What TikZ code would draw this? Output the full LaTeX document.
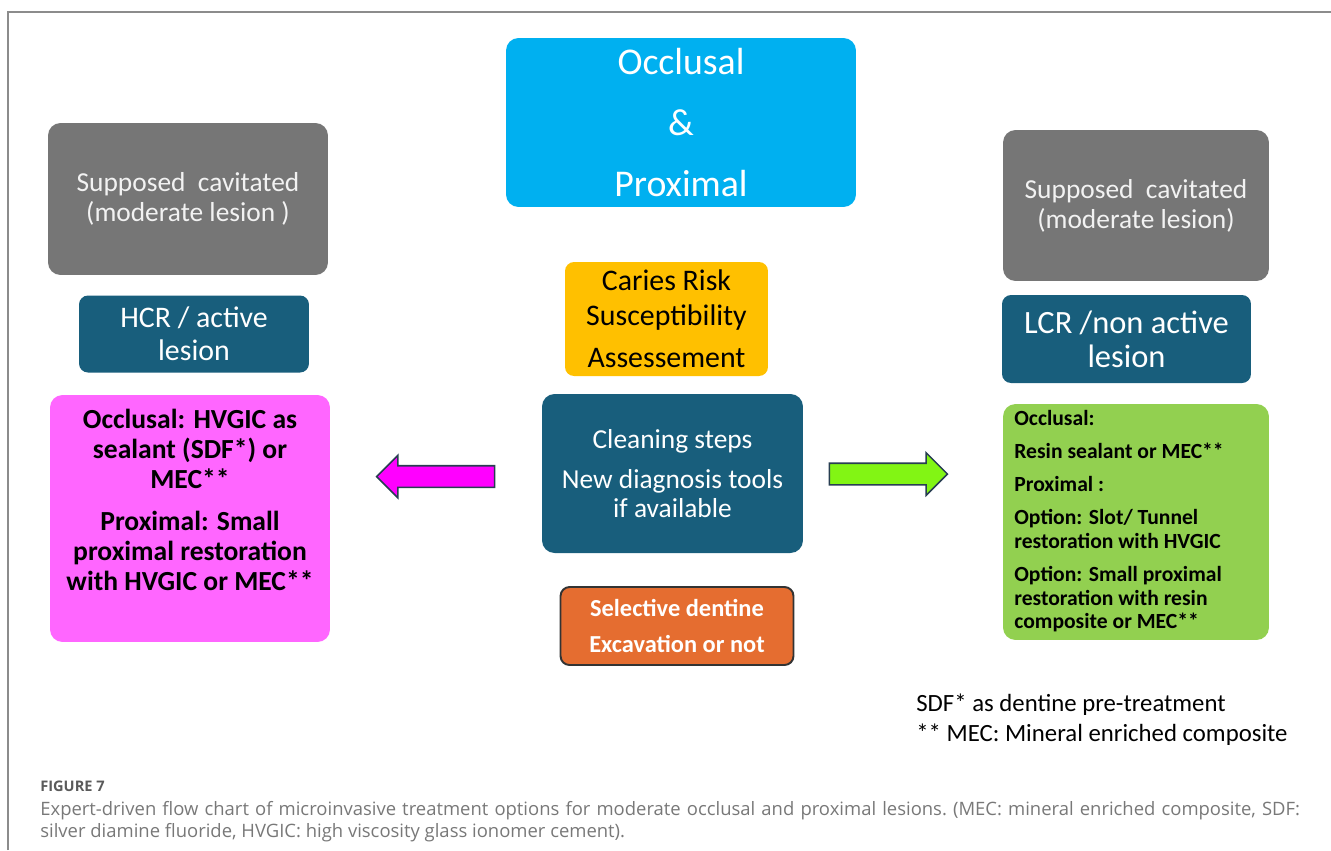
\documentclass[tikz,border=0pt]{standalone}
\usepackage{fontspec}
\setmainfont{Carlito}
\newfontfamily\figcapfont{Open Sans}
\usepackage{tikz}
\usetikzlibrary{shapes.arrows}

\definecolor{occlblue}{RGB}{0,176,240}
\definecolor{boxgray}{RGB}{118,118,118}
\definecolor{lesionblue}{RGB}{24,94,124}
\definecolor{riskgold}{RGB}{255,192,0}
\definecolor{excorange}{RGB}{229,109,48}
\definecolor{hcrpink}{RGB}{255,102,255}
\definecolor{lcrgreen}{RGB}{146,208,80}
\definecolor{arrowpink}{RGB}{255,0,255}
\definecolor{arrowgreen}{RGB}{130,245,20}
\definecolor{outline}{RGB}{40,62,82}
\definecolor{framegray}{RGB}{140,140,140}
\definecolor{capgray}{RGB}{120,120,120}
\definecolor{figgray}{RGB}{90,90,90}

\begin{document}
\begin{tikzpicture}[
    x=0.02cm, y=-0.02cm,
    box/.style={rounded corners=0.25cm, inner sep=0pt, align=center},
    smallbox/.style={rounded corners=0.18cm, inner sep=0pt, align=center},
    graybox/.style={box, fill=boxgray, text=white!95!black, minimum width=5.32cm, minimum height=3.02cm,
        font=\fontsize{15.6}{17}\selectfont},
    blockarrow/.style={single arrow, draw=outline, line width=0.9pt, inner xsep=0pt, inner ysep=0.2cm,
        minimum height=2.36cm, single arrow head extend=0.21cm, single arrow tip angle=90}
]
\useasboundingbox (0,0) rectangle (1331,850);

% === FRAME ===
\draw[framegray, line width=0.8pt] (8,850) -- (8,12) -- (1331,12);

% === TOP ===
\node[box, fill=occlblue, text=white, minimum width=7cm, minimum height=3.38cm,
    font=\fontsize{21.5}{34.6}\selectfont] (occl) at (681,122.5) {Occlusal\\\&\\Proximal};

% === LEFT COLUMN ===
\node[graybox, minimum width=5.6cm, minimum height=3.04cm] (lgray) at (188,199)
    {Supposed\ \ cavitated\\(moderate lesion )};
\node[smallbox, fill=lesionblue, text=white, minimum width=4.6cm, minimum height=1.54cm,
    font=\fontsize{17}{18.7}\selectfont] (hcr) at (194,334) {HCR / active\\lesion};
\node[box, fill=hcrpink, minimum width=5.6cm, minimum height=4.94cm] (pinkbox) at (190,518.5) {};
\node[align=center, font=\bfseries\fontsize{15.7}{17}\selectfont] (pinktext) at (190,500)
    {Occlusal: HVGIC as\\sealant (SDF*) or\\MEC**\\[6.8pt]Proximal: Small\\proximal restoration\\with HVGIC or MEC**};

% === CENTRE COLUMN ===
\node[smallbox, fill=riskgold, minimum width=4.06cm, minimum height=2.28cm,
    font=\fontsize{17}{19.8}\selectfont] (risk) at (666.5,319)
    {Caries Risk\\Susceptibility\\[4pt]Assessement};
\node[box, fill=lesionblue, text=white, minimum width=5.22cm, minimum height=3.18cm,
    font=\fontsize{15.6}{16.4}\selectfont] (clean) at (672.5,473.5)
    {Cleaning steps\\[6.8pt]New diagnosis tools\\if available};
\node[smallbox, fill=excorange, draw=black!80, line width=1.1pt, text=white,
    minimum width=4.66cm, minimum height=1.56cm,
    font=\bfseries\fontsize{13.9}{21}\selectfont] (excav) at (677,626)
    {Selective dentine\\Excavation or not};

% === BLOCK ARROWS ===
\node[blockarrow, fill=arrowpink, shape border rotate=180] (larrow) at (441,476.5) {};
\node[blockarrow, fill=arrowgreen] (rarrow) at (883,474) {};

% === RIGHT COLUMN ===
\node[graybox] (rgray) at (1136,205.5) {Supposed\ \ cavitated\\(moderate lesion)};
\node[smallbox, fill=lesionblue, text=white, minimum width=4.98cm, minimum height=1.76cm,
    font=\fontsize{18.5}{19.3}\selectfont] (lcr) at (1126.5,339) {LCR /non active\\lesion};
\node[box, fill=lcrgreen, minimum width=5.32cm, minimum height=4.72cm] (greenbox) at (1136,522) {};
\node[anchor=west, align=left, inner sep=0pt, font=\bfseries\fontsize{12.3}{13.6}\selectfont]
    (greentext) at (1014,521.5)
    {Occlusal:\\[5.1pt]Resin sealant or MEC**\\[5.1pt]Proximal :\\[5.1pt]Option: Slot/ Tunnel\\restoration with HVGIC\\[5.1pt]Option: Small proximal\\restoration with resin\\composite or MEC**};

% === LABELS ===
\node[anchor=west, align=left, inner sep=0pt, font=\fontsize{14.1}{17}\selectfont] (notes) at (916,720)
    {SDF* as dentine pre-treatment\\** MEC: Mineral enriched composite};
\node[anchor=west, inner sep=0pt, text=figgray, font=\figcapfont\bfseries\fontsize{8.3}{9.6}\selectfont]
    (figlabel) at (40,786) {FIGURE 7};
\node[anchor=west, inner sep=0pt, text width=25.2cm, align=justify, text=capgray,
    font=\figcapfont\frenchspacing\fontsize{10.5}{12.5}\selectfont] (caption) at (40,822)
    {Expert-driven flow chart of microinvasive treatment options for moderate occlusal and proximal lesions. (MEC: mineral enriched composite, SDF:\linebreak silver diamine fluoride, HVGIC: high viscosity glass ionomer cement).};

\end{tikzpicture}
\end{document}
